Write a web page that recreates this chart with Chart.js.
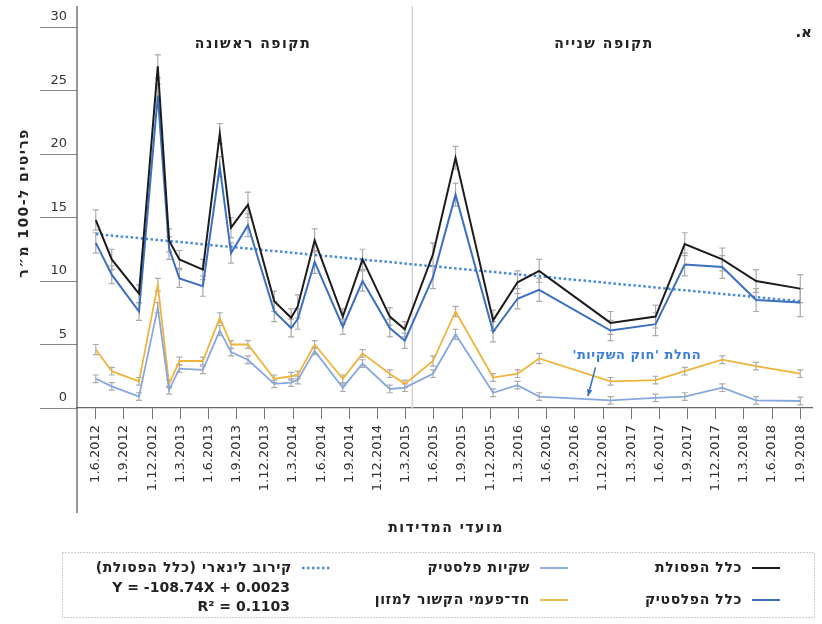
<!DOCTYPE html>
<html lang="he">
<head>
<meta charset="utf-8">
<script src="https://cdn.jsdelivr.net/npm/chart.js@4.4.1/dist/chart.umd.min.js"></script>
<style>
  html, body { margin: 0; padding: 0; background: #fff; }
  #wrap { width: 822px; height: 624px; }
</style>
</head>
<body>
<div id="wrap"><canvas id="litter"></canvas></div>
<script>
// survey dates, in months counted from 1.6.2012
const surveyMonths = [0, 1.7, 4.6, 6.6, 7.8, 8.9, 11.4, 13.2, 14.4, 16.2, 19.0, 20.8, 21.5, 23.3, 26.3, 28.4, 31.3, 32.9, 35.9, 38.3, 42.3, 44.9, 47.2, 54.8, 59.6, 62.7, 66.7, 70.3, 75.0];

// items per 100 m²
const allLitter     = [14.8, 11.7, 9.0, 26.9, 13.2, 11.7, 10.9, 21.6, 14.2, 16.0, 8.4, 7.1, 8.0, 13.2, 7.2, 11.7, 7.2, 6.2, 12.1, 19.7, 6.9, 9.9, 10.8, 6.7, 7.2, 12.9, 11.7, 10.0, 9.4];
const allPlastic    = [13.0, 10.5, 7.6, 24.6, 12.6, 10.2, 9.6, 19.0, 12.2, 14.4, 7.6, 6.3, 7.0, 11.5, 6.4, 10.0, 6.3, 5.3, 10.3, 16.8, 6.0, 8.6, 9.3, 6.1, 6.6, 11.3, 11.1, 8.5, 8.3];
const plasticBags   = [2.3, 1.7, 0.9, 7.9, 1.4, 3.1, 3.0, 6.1, 4.4, 3.8, 1.9, 2.0, 2.2, 4.5, 1.6, 3.5, 1.5, 1.6, 2.7, 5.8, 1.2, 1.8, 0.9, 0.6, 0.8, 0.9, 1.6, 0.6, 0.55];
const foodDisposable = [4.6, 2.9, 2.1, 9.7, 1.9, 3.7, 3.7, 7.1, 5.0, 5.0, 2.3, 2.5, 2.6, 5.0, 2.3, 4.3, 2.7, 1.9, 3.7, 7.6, 2.4, 2.7, 3.9, 2.1, 2.2, 2.9, 3.8, 3.3, 2.7];

// standard errors
const allLitterErr   = [0.8, 0.8, 0.7, 0.9, 0.9, 0.7, 0.8, 0.8, 0.8, 1.0, 0.8, 0.7, 0.9, 0.9, 0.6, 0.8, 0.7, 0.6, 0.9, 0.9, 0.8, 0.9, 0.9, 0.9, 0.9, 0.9, 0.9, 0.9, 1.1];
const allPlasticErr  = [0.8, 0.7, 0.7, 0.9, 0.9, 0.7, 0.8, 0.8, 0.8, 0.9, 0.8, 0.7, 0.8, 0.9, 0.6, 0.8, 0.7, 0.6, 0.9, 0.9, 0.8, 0.8, 0.9, 0.8, 0.9, 0.9, 0.9, 0.9, 1.1];
const plasticBagsErr = [0.3, 0.3, 0.3, 0.4, 0.3, 0.3, 0.3, 0.4, 0.3, 0.3, 0.3, 0.3, 0.3, 0.3, 0.3, 0.3, 0.3, 0.3, 0.3, 0.4, 0.3, 0.3, 0.3, 0.3, 0.3, 0.3, 0.3, 0.3, 0.3];
const foodDisposableErr = [0.4, 0.3, 0.3, 0.5, 0.3, 0.3, 0.3, 0.4, 0.3, 0.3, 0.3, 0.3, 0.3, 0.3, 0.3, 0.3, 0.3, 0.3, 0.4, 0.4, 0.3, 0.3, 0.4, 0.3, 0.3, 0.3, 0.3, 0.3, 0.3];

// linear fit of all litter, endpoints
const trendMonths = [0, 75];
const trendValues = [13.7, 8.4];

const tickMonths = [0, 3, 6, 9, 12, 15, 18, 21, 24, 27, 30, 33, 36, 39, 42, 45, 48, 51, 54, 57, 60, 63, 66, 69, 72, 75];
const tickLabels = ['1.6.2012', '1.9.2012', '1.12.2012', '1.3.2013', '1.6.2013', '1.9.2013', '1.12.2013', '1.3.2014', '1.6.2014',
  '1.9.2014', '1.12.2014', '1.3.2015', '1.6.2015', '1.9.2015', '1.12.2015', '1.3.2016', '1.6.2016', '1.9.2016', '1.12.2016',
  '1.3.2017', '1.6.2017', '1.9.2017', '1.12.2017', '1.3.2018', '1.6.2018', '1.9.2018'];

const periodSplit = 33.7;
const bagLawNote = { text: "החלת 'חוק השקיות'", month: 57.6, value: 4.1, arrowFrom: [53.2, 3.2], arrowTo: [52.4, 0.95] };

const FONT = "'DejaVu Sans', sans-serif";
const C_ALL = '#1b1b1b', C_PLASTIC = '#3d6fc0', C_BAGS = '#86a8dc', C_FOOD = '#efb43c', C_TREND = '#4a8bd6';

const pts = vals => vals.map((v, i) => ({ x: surveyMonths[i], y: v }));

function hebText(ctx, text, x, y, align, font, color, spacing = 0) {
  ctx.font = font;
  ctx.fillStyle = color;
  ctx.direction = 'rtl';
  ctx.letterSpacing = spacing + 'px';
  ctx.textAlign = align;
  ctx.textBaseline = 'middle';
  ctx.fillText(text, x, y);
  ctx.letterSpacing = '0px';
}

const decor = {
  id: 'decor',
  beforeDatasetsDraw(chart) {
    const { ctx, chartArea, scales: { x, y } } = chart;
    ctx.save();
    // divider between the two periods
    const xd = x.getPixelForValue(periodSplit);
    ctx.strokeStyle = '#d4d4d4';
    ctx.lineWidth = 1.5;
    ctx.beginPath();
    ctx.moveTo(xd, 6);
    ctx.lineTo(xd, chartArea.bottom);
    ctx.stroke();

    // error bars
    ctx.strokeStyle = '#ababab';
    ctx.lineWidth = 1.2;
    chart.data.datasets.forEach(ds => {
      if (!ds.errors) return;
      ds.data.forEach((p, i) => {
        const px = x.getPixelForValue(p.x);
        const top = y.getPixelForValue(p.y + ds.errors[i]);
        const bot = y.getPixelForValue(p.y - ds.errors[i]);
        ctx.beginPath();
        ctx.moveTo(px, top); ctx.lineTo(px, bot);
        ctx.moveTo(px - 3, top); ctx.lineTo(px + 3, top);
        ctx.moveTo(px - 3, bot); ctx.lineTo(px + 3, bot);
        ctx.stroke();
      });
    });
    ctx.restore();
  },
  afterDraw(chart) {
    const { ctx, chartArea, scales: { x, y } } = chart;
    ctx.save();

    // long y axis line
    ctx.strokeStyle = '#555';
    ctx.lineWidth = 1.2;
    ctx.beginPath();
    ctx.moveTo(chartArea.left, 6);
    ctx.lineTo(chartArea.left, 513);
    ctx.stroke();

    // period headings
    hebText(ctx, 'תקופה ראשונה', 253, 44, 'center', `bold 14px ${FONT}`, '#222', 1.5);
    hebText(ctx, 'תקופה שנייה', 604, 44, 'center', `bold 14px ${FONT}`, '#222', 1.5);
    hebText(ctx, 'א.', 812, 33, 'right', `bold 15px ${FONT}`, '#222');

    // bag law note with arrow
    const nx = x.getPixelForValue(bagLawNote.month), ny = y.getPixelForValue(bagLawNote.value);
    hebText(ctx, bagLawNote.text, nx, ny, 'center', `bold 13px ${FONT}`, '#3b7dd8', 0.5);
    const ax0 = x.getPixelForValue(bagLawNote.arrowFrom[0]), ay0 = y.getPixelForValue(bagLawNote.arrowFrom[1]);
    const ax1 = x.getPixelForValue(bagLawNote.arrowTo[0]), ay1 = y.getPixelForValue(bagLawNote.arrowTo[1]);
    ctx.strokeStyle = '#2f6fc4';
    ctx.fillStyle = '#2f6fc4';
    ctx.lineWidth = 1.5;
    ctx.beginPath(); ctx.moveTo(ax0, ay0); ctx.lineTo(ax1, ay1); ctx.stroke();
    const ang = Math.atan2(ay1 - ay0, ax1 - ax0);
    ctx.beginPath();
    ctx.moveTo(ax1, ay1);
    ctx.lineTo(ax1 - 7 * Math.cos(ang - 0.4), ay1 - 7 * Math.sin(ang - 0.4));
    ctx.lineTo(ax1 - 7 * Math.cos(ang + 0.4), ay1 - 7 * Math.sin(ang + 0.4));
    ctx.closePath(); ctx.fill();

    // axis titles
    ctx.save();
    ctx.translate(24, 203);
    ctx.rotate(-Math.PI / 2);
    hebText(ctx, 'פריטים ל-100 מ״ר', 0, 0, 'center', `bold 14px ${FONT}`, '#222', 1.4);
    ctx.restore();
    hebText(ctx, 'מועדי המדידות', 446, 528, 'center', `bold 14px ${FONT}`, '#222', 1.5);

    // legend box
    ctx.strokeStyle = '#9a9a9a';
    ctx.lineWidth = 1;
    ctx.setLineDash([1, 2]);
    ctx.strokeRect(62.5, 552.5, 752, 65);
    ctx.setLineDash([]);

    const ds = chart.data.datasets;
    const entry = (d, lx, ly, tx) => {
      ctx.strokeStyle = d.borderColor;
      ctx.lineWidth = d.borderWidth;
      ctx.setLineDash(d.borderDash || []);
      ctx.beginPath(); ctx.moveTo(lx, ly); ctx.lineTo(lx + 28, ly); ctx.stroke();
      ctx.setLineDash([]);
      hebText(ctx, d.label, tx, ly, 'right', `bold 14px ${FONT}`, '#222', 0.6);
    };
    entry(ds[0], 752, 568, 742);
    entry(ds[1], 752, 600, 742);
    entry(ds[2], 540, 568, 530);
    entry(ds[3], 540, 600, 530);
    entry(ds[4], 302, 568, 292);

    ctx.font = `bold 14px ${FONT}`;
    ctx.fillStyle = '#222';
    ctx.direction = 'ltr';
    ctx.textAlign = 'right';
    ctx.textBaseline = 'middle';
    ctx.fillText('Y = -108.74X + 0.0023', 290, 588);
    ctx.fillText('R² = 0.1103', 290, 607);
    ctx.restore();
  }
};

Chart.defaults.font.family = FONT;
Chart.defaults.color = '#333';

new Chart(document.getElementById('litter'), {
  type: 'line',
  data: {
    datasets: [
      { label: 'כלל הפסולת', data: pts(allLitter), errors: allLitterErr, borderColor: C_ALL, borderWidth: 2 },
      { label: 'כלל הפלסטיק', data: pts(allPlastic), errors: allPlasticErr, borderColor: C_PLASTIC, borderWidth: 2 },
      { label: 'שקיות פלסטיק', data: pts(plasticBags), errors: plasticBagsErr, borderColor: C_BAGS, borderWidth: 1.8 },
      { label: 'חד־פעמי הקשור למזון', data: pts(foodDisposable), errors: foodDisposableErr, borderColor: C_FOOD, borderWidth: 1.8 },
      { label: 'קירוב לינארי (כלל הפסולת)', data: trendMonths.map((m, i) => ({ x: m, y: trendValues[i] })),
        borderColor: C_TREND, borderWidth: 2.5, borderDash: [2.5, 2.5] }
    ]
  },
  options: {
    responsive: true,
    maintainAspectRatio: false,
    animation: false,
    layout: { padding: { left: 0, top: 27, right: 9, bottom: 116 } },
    elements: { point: { radius: 0 }, line: { tension: 0, fill: false } },
    plugins: { legend: { display: false }, tooltip: { enabled: false } },
    scales: {
      x: {
        type: 'linear',
        min: -2,
        max: 76.3,
        afterBuildTicks: s => { s.ticks = tickMonths.map(v => ({ value: v })); },
        afterFit: s => { s.height = 100; },
        grid: { drawOnChartArea: false, tickLength: 11, color: '#777' },
        border: { color: '#666', width: 1.2 },
        ticks: {
          autoSkip: false, minRotation: 90, maxRotation: 90, padding: 6,
          font: { size: 13 }, color: '#333',
          callback: v => tickLabels[tickMonths.indexOf(v)]
        }
      },
      y: {
        min: 0,
        max: 30,
        afterFit: s => { s.width = 77; },
        grid: { drawOnChartArea: false, tickLength: 37, color: '#888' },
        border: { display: false },
        ticks: { stepSize: 5, padding: -27, labelOffset: -10, font: { size: 13 }, color: '#333' }
      }
    }
  },
  plugins: [decor]
});
</script>
</body>
</html>
